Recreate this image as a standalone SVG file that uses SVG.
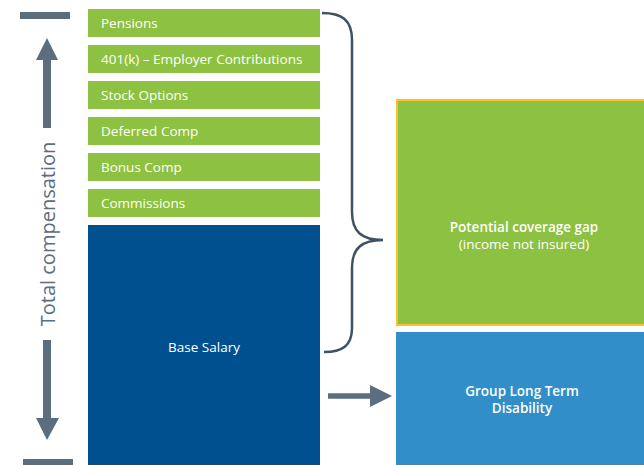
<svg xmlns="http://www.w3.org/2000/svg" width="644" height="465" viewBox="0 0 644 465">
<style>
.bar{fill:#8dc141;}
.lbl{font-family:"Open Sans","Liberation Sans",sans-serif;font-size:13.5px;fill:#ffffff;}
.ctr{text-anchor:middle;}
.b{font-weight:600;}
.gray{fill:#5b6e80;}
</style>
<defs>
<marker id="ah" markerWidth="4" markerHeight="4" refX="0" refY="2" orient="auto" markerUnits="strokeWidth">
<path d="M0,0 L4,2 L0,4 Z" fill="#5b6e80"/>
</marker>
</defs>
<rect width="644" height="465" fill="#ffffff"/>
<g id="axis">
<rect class="gray" x="20" y="12" width="50" height="7"/>
<rect class="gray" x="23" y="459" width="50" height="6"/>
<rect class="gray" x="43" y="60" width="8" height="68"/>
<path class="gray" d="M47,38 L58,60 L36,60 Z"/>
<rect class="gray" x="43" y="340" width="8" height="78"/>
<path class="gray" d="M47,440 L59,418 L36,418 Z"/>
<text x="47" y="234" transform="rotate(-90 47 234)" text-anchor="middle" dominant-baseline="central" font-family="Open Sans, Liberation Sans, sans-serif" font-size="20" fill="#5b6e80">Total compensation</text>
</g>
<g id="pensions"><rect class="bar" x="88" y="9" width="232" height="28"/><text class="lbl" x="101" y="28">Pensions</text></g>
<g id="k401"><rect class="bar" x="88" y="45" width="232" height="28"/><text class="lbl" x="101" y="64">401(k) – Employer Contributions</text></g>
<g id="stock"><rect class="bar" x="88" y="81" width="232" height="28"/><text class="lbl" x="101" y="100">Stock Options</text></g>
<g id="deferred"><rect class="bar" x="88" y="117" width="232" height="28"/><text class="lbl" x="101" y="136">Deferred Comp</text></g>
<g id="bonus"><rect class="bar" x="88" y="153" width="232" height="28"/><text class="lbl" x="101" y="172">Bonus Comp</text></g>
<g id="commissions"><rect class="bar" x="88" y="189" width="232" height="28"/><text class="lbl" x="101" y="208">Commissions</text></g>
<g id="base"><rect x="88" y="225" width="232" height="240" fill="#004f8e"/><text class="lbl ctr" x="204" y="352">Base Salary</text></g>
<g id="gap"><rect x="397" y="100" width="250" height="225" fill="#8dc141" stroke="#fbc02d" stroke-width="2"/><text class="lbl ctr b" x="524" y="232">Potential coverage gap</text><text class="lbl ctr" x="524" y="249">(income not insured)</text></g>
<g id="ltd"><rect x="396" y="332" width="248" height="133" fill="#318ec8"/><text class="lbl ctr b" x="522" y="396">Group Long Term</text><text class="lbl ctr b" x="522" y="413">Disability</text></g>
<g id="connectors">
<path d="M322,13 C342,13 352,20 352,40 L352,212 C352,232 362,240 383,240 C362,240 352,248 352,268 L352,328 C352,346 342,352 324,352" fill="none" stroke="#3e5266" stroke-width="2.5"/>
<line x1="328" y1="396" x2="370" y2="396" stroke="#5b6e80" stroke-width="5.5" marker-end="url(#ah)"/>
</g>
</svg>
